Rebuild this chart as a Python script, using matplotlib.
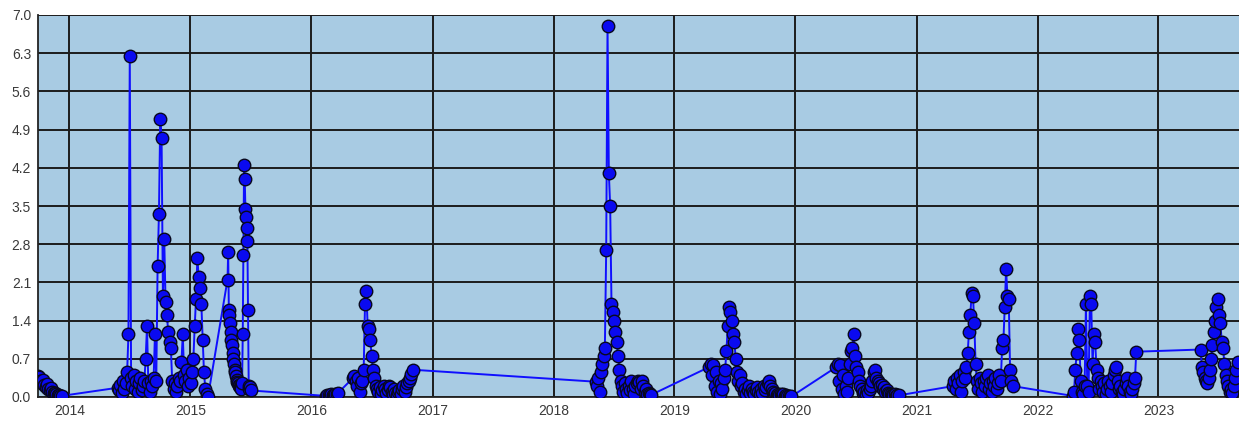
import numpy as np
import pandas as pd
import matplotlib
matplotlib.use("Agg")
import matplotlib.pyplot as plt

# sampling: every STEP days from each season start
STEP = 4

start_2013 = "2013-09-23"
vals_2013 = [0.3, 0.38, 0.36, 0.3, 0.25, 0.32, 0.22, 0.18, 0.24, 0.15,
             0.12, 0.16, 0.1, 0.07, 0.08, 0.05, 0.04, 0.03, 0.02, 0.02]

start_2014 = "2014-05-27"
vals_2014 = [0.17, 0.12, 0.22, 0.08, 0.3, 0.15, 0.25, 0.45, 1.15, 6.25,
             0.35, 0.2, 0.4, 0.15, 0.3, 0.1, 0.25, 0.35, 0.12, 0.2,
             0.3, 0.7, 1.3, 0.25, 0.1, 0.3, 0.2, 0.35, 1.15, 0.3,
             2.4, 3.35, 5.1, 4.75, 1.85, 2.9, 1.75, 1.5, 1.2, 1.0,
             0.9, 0.3, 0.15, 0.25, 0.1, 0.2, 0.35, 0.3, 0.65, 1.15,
             0.4, 0.3, 0.5, 0.2, 0.35, 0.25, 0.45, 0.7, 1.3, 1.8,
             2.55, 2.2, 2.0, 1.7, 1.05, 0.45, 0.15, 0.05, 0.0]

# spring 2015 sampled every 2 days
start_2015 = "2015-04-23"
step_2015 = 2
vals_2015 = [2.15, 2.65, 1.6, 1.5, 1.35, 1.2, 1.05, 0.95, 0.8, 0.7,
             0.6, 0.5, 0.45, 0.38, 0.32, 0.28, 0.25, 0.22, 0.2, 0.18,
             0.2, 0.15, 0.25, 1.15, 2.6, 4.25, 4.0, 3.45, 3.3, 3.1,
             2.85, 1.6, 0.2, 0.15, 0.18, 0.12]

start_2016a = "2016-02-14"
vals_2016a = [0.02, 0.04, 0.03, 0.02, 0.05, 0.03, 0.04, 0.06, 0.05, 0.07]

start_2016 = "2016-05-06"
vals_2016 = [0.35, 0.38, 0.3, 0.2, 0.35, 0.1, 0.25, 0.3, 0.5, 1.7,
             1.95, 1.3, 1.25, 1.05, 0.75, 0.5, 0.35, 0.2, 0.15, 0.1,
             0.18, 0.05, 0.12, 0.2, 0.15, 0.08, 0.12, 0.2, 0.18, 0.1,
             0.05, 0.15, 0.08, 0.04, 0.1, 0.12, 0.06, 0.15, 0.2, 0.1,
             0.18, 0.25, 0.3, 0.35, 0.42, 0.5]

start_2018 = "2018-05-08"
vals_2018 = [0.28, 0.2, 0.35, 0.1, 0.45, 0.6, 0.75, 0.9, 2.7, 6.8,
             4.1, 3.5, 1.7, 1.55, 1.4, 1.2, 1.0, 0.75, 0.5, 0.3,
             0.2, 0.1, 0.25, 0.15, 0.08, 0.2, 0.12, 0.3, 0.15, 0.05,
             0.2, 0.25, 0.3, 0.28, 0.15, 0.3, 0.2, 0.1, 0.15, 0.05,
             0.08, 0.05, 0.04]

start_2019 = "2019-04-16"
vals_2019 = [0.55, 0.6, 0.4, 0.58, 0.2, 0.45, 0.1, 0.3, 0.05, 0.25,
             0.15, 0.35, 0.5, 0.85, 1.3, 1.65, 1.55, 1.4, 1.15, 1.0,
             0.7, 0.45, 0.3, 0.4, 0.2, 0.25, 0.1, 0.15, 0.05, 0.12,
             0.2, 0.08, 0.15, 0.1, 0.05, 0.12, 0.18, 0.1, 0.05, 0.15,
             0.08, 0.2, 0.12, 0.18, 0.25, 0.3, 0.2, 0.15, 0.1, 0.05,
             0.08, 0.04, 0.06, 0.03, 0.05, 0.03, 0.06, 0.02, 0.04, 0.02,
             0.01, 0.0, 0.01]

start_2020 = "2020-05-04"
vals_2020 = [0.55, 0.6, 0.3, 0.58, 0.15, 0.4, 0.05, 0.2, 0.1, 0.35,
             0.6, 0.85, 0.9, 1.15, 0.75, 0.55, 0.45, 0.3, 0.2, 0.15,
             0.08, 0.1, 0.05, 0.12, 0.08, 0.15, 0.2, 0.3, 0.45, 0.5,
             0.35, 0.3, 0.25, 0.2, 0.22, 0.15, 0.18, 0.1, 0.12, 0.08,
             0.06, 0.05, 0.04, 0.03, 0.05, 0.02, 0.04, 0.03]

start_2021 = "2021-04-21"
vals_2021 = [0.2, 0.3, 0.15, 0.35, 0.25, 0.4, 0.1, 0.3, 0.45, 0.35,
             0.55, 0.8, 1.2, 1.5, 1.9, 1.85, 1.35, 0.6, 0.3, 0.15,
             0.35, 0.25, 0.1, 0.3, 0.2, 0.35, 0.4, 0.15, 0.25, 0.1,
             0.3, 0.2, 0.35, 0.15, 0.25, 0.4, 0.3, 0.9, 1.05, 1.65,
             2.35, 1.85, 1.8, 0.5, 0.3, 0.2]

start_2022 = "2022-04-17"
vals_2022 = [0.02, 0.1, 0.5, 0.8, 1.25, 1.05, 0.3, 0.1, 0.05, 0.2,
             1.7, 0.2, 0.1, 1.85, 1.7, 0.6, 1.15, 1.0, 0.5, 0.35,
             0.15, 0.3, 0.2, 0.1, 0.25, 0.05, 0.15, 0.3, 0.2, 0.1,
             0.25, 0.4, 0.5, 0.55, 0.3, 0.15, 0.2, 0.1, 0.05, 0.15,
             0.25, 0.35, 0.2, 0.1, 0.05, 0.15, 0.25, 0.35, 0.83]

start_2023 = "2023-05-08"
vals_2023 = [0.87, 0.55, 0.45, 0.35, 0.3, 0.25, 0.35, 0.5, 0.7, 0.95,
             1.2, 1.4, 1.65, 1.8, 1.5, 1.35, 1.0, 0.9, 0.6, 0.4,
             0.3, 0.2, 0.1, 0.15, 0.08, 0.2, 0.35, 0.5, 0.65]

seasons = [
    (start_2013, STEP, vals_2013),
    (start_2014, STEP, vals_2014),
    (start_2015, step_2015, vals_2015),
    (start_2016a, STEP, vals_2016a),
    (start_2016, STEP, vals_2016),
    (start_2018, STEP, vals_2018),
    (start_2019, STEP, vals_2019),
    (start_2020, STEP, vals_2020),
    (start_2021, STEP, vals_2021),
    (start_2022, STEP, vals_2022),
    (start_2023, STEP, vals_2023),
]

dates, values = [], []
for start, step, vals in seasons:
    d = pd.Timestamp(start) + pd.to_timedelta(np.arange(len(vals)) * step, unit="D")
    dates.extend(d)
    values.extend(vals)

years = list(range(2014, 2024))
y_ticks = [0.0, 0.7, 1.4, 2.1, 2.8, 3.5, 4.2, 4.9, 5.6, 6.3, 7.0]

plt.rcParams["font.family"] = ["Liberation Sans", "DejaVu Sans"]

fig = plt.figure(figsize=(12.39, 4.21), dpi=100)
ax = fig.add_axes([38 / 1239, 1 - 397 / 421, 1 - 38 / 1239, 382 / 421])
ax.set_facecolor("#a8cbe3")

ax.plot(dates, values, color="#0f0fff", lw=1.4, marker="o", ms=9,
        mfc="#0a0af0", mec="#08081e", mew=1.0, zorder=3)

ax.set_ylim(0, 7)
ax.set_xlim(pd.Timestamp("2013-09-28"), pd.Timestamp("2023-09-01"))
ax.set_yticks(y_ticks)
ax.set_yticklabels([f"{v:.1f}" for v in y_ticks])
ax.set_xticks([pd.Timestamp(f"{y}-01-01") for y in years])
ax.set_xticklabels([str(y) for y in years])

ax.grid(True, color="#1c1c1c", lw=1.4, zorder=1)
ax.set_axisbelow(True)
ax.tick_params(length=0, labelsize=10, labelcolor="#3a3a3a")
ax.tick_params(axis="y", pad=5)
ax.tick_params(axis="x", pad=5)
for side in ["top", "right"]:
    ax.spines[side].set_visible(False)
for side in ["left", "bottom"]:
    ax.spines[side].set_color("#222222")
    ax.spines[side].set_linewidth(1.3)

fig.savefig("out.png", dpi=100)
